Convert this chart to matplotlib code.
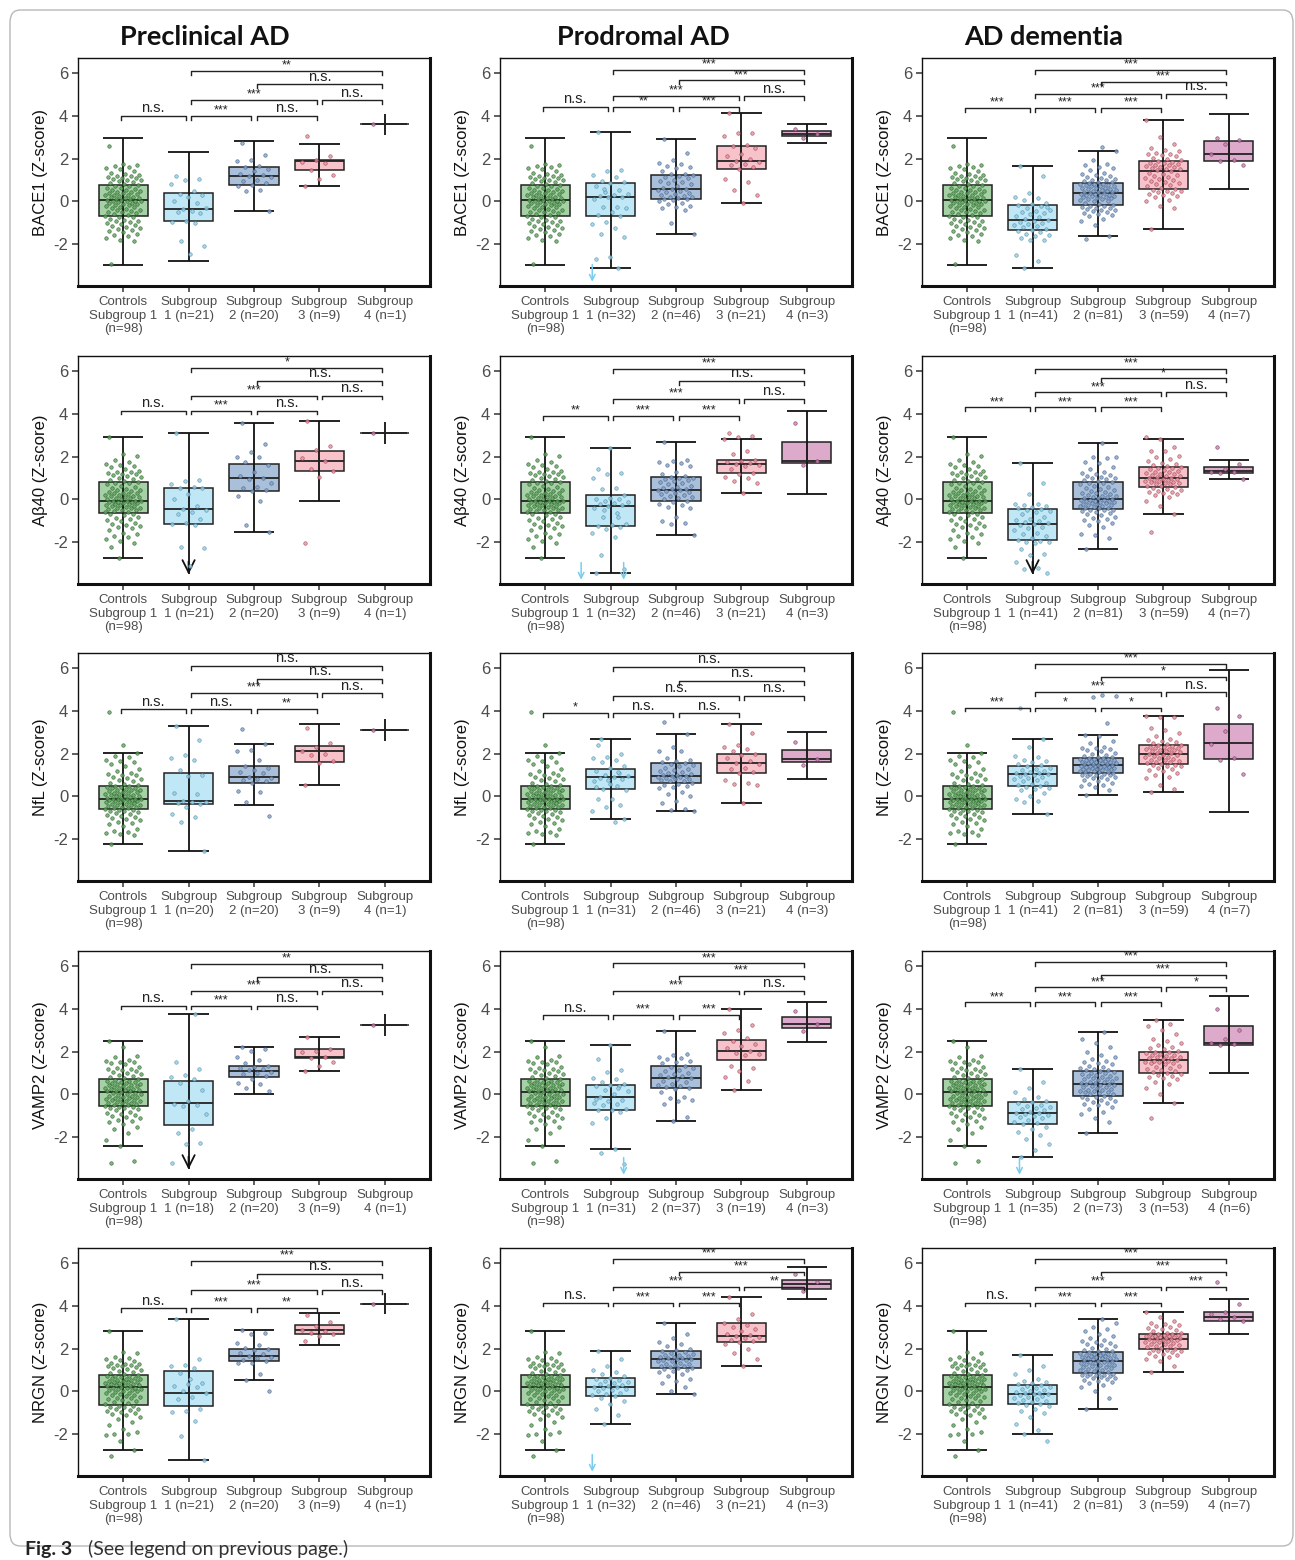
import numpy as np
import matplotlib.pyplot as plt
from matplotlib.patches import FancyBboxPatch

plt.rcParams['font.family'] = ['Liberation Sans', 'DejaVu Sans']
plt.rcParams['axes.unicode_minus'] = False

stages = ['Preclinical AD', 'Prodromal AD', 'AD dementia']
markers = ['BACE1', 'Aβ40', 'NfL', 'VAMP2', 'NRGN']

# group sizes (subgroups 1-4), controls are always n=98
n_ctrl = 98
bace1_n = [[21, 20, 9, 1], [32, 46, 21, 3], [41, 81, 59, 7]]
ab40_n = [[21, 20, 9, 1], [32, 46, 21, 3], [41, 81, 59, 7]]
nfl_n = [[20, 20, 9, 1], [31, 46, 21, 3], [41, 81, 59, 7]]
vamp2_n = [[18, 20, 9, 1], [31, 37, 19, 3], [35, 73, 53, 6]]
nrgn_n = [[21, 20, 9, 1], [32, 46, 21, 3], [41, 81, 59, 7]]

# significance labels, pairs: C-1, 1-2, 2-3, 3-4, 1-3, 2-4, 1-4
bace1_sig = [['n.s.', '***', 'n.s.', 'n.s.', '***', 'n.s.', '**'],
             ['n.s.', '**', '***', 'n.s.', '***', '***', '***'],
             ['***', '***', '***', 'n.s.', '***', '***', '***']]
ab40_sig = [['n.s.', '***', 'n.s.', 'n.s.', '***', 'n.s.', '*'],
            ['**', '***', '***', 'n.s.', '***', 'n.s.', '***'],
            ['***', '***', '***', 'n.s.', '***', '*', '***']]
nfl_sig = [['n.s.', 'n.s.', '**', 'n.s.', '***', 'n.s.', 'n.s.'],
           ['*', 'n.s.', 'n.s.', 'n.s.', 'n.s.', 'n.s.', 'n.s.'],
           ['***', '*', '*', 'n.s.', '***', '*', '***']]
vamp2_sig = [['n.s.', '***', 'n.s.', 'n.s.', '***', 'n.s.', '**'],
             ['n.s.', '***', '***', 'n.s.', '***', '***', '***'],
             ['***', '***', '***', '*', '***', '***', '***']]
nrgn_sig = [['n.s.', '***', '**', 'n.s.', '***', 'n.s.', '***'],
            ['n.s.', '***', '***', '**', '***', '***', '***'],
            ['n.s.', '***', '***', '***', '***', '***', '***']]

# bracket heights (lowest row, second, third, top)
bace1_lev = [[4.0, 4.73, 5.47, 6.08], [4.42, 4.92, 5.65, 6.15], [4.38, 5.03, 5.6, 6.15]]
ab40_lev = [[4.15, 4.85, 5.54, 6.15], [3.9, 4.7, 5.54, 6.1], [4.3, 5.0, 5.65, 6.1]]
nfl_lev = [[4.08, 4.82, 5.5, 6.1], [3.9, 4.7, 5.4, 6.05], [4.15, 4.88, 5.6, 6.2]]
vamp2_lev = [[4.15, 4.85, 5.5, 6.1], [3.7, 4.85, 5.55, 6.12], [4.3, 5.0, 5.6, 6.2]]
nrgn_lev = [[3.9, 4.72, 5.5, 6.1], [4.15, 4.9, 5.6, 6.2], [4.15, 4.9, 5.6, 6.2]]

# box stats [whisker low, q1, median, q3, whisker high]
bace1_ctrl_box = [-2.95, -0.7, 0.05, 0.75, 2.95]
ab40_ctrl_box = [-2.75, -0.65, -0.05, 0.8, 2.9]
nfl_ctrl_box = [-2.2, -0.6, -0.1, 0.5, 2.05]
vamp2_ctrl_box = [-2.4, -0.55, 0.1, 0.7, 2.5]
nrgn_ctrl_box = [-2.75, -0.65, 0.2, 0.75, 2.8]

bace1_box = [
    [[-2.8, -0.9, -0.35, 0.4, 2.3], [-0.45, 0.75, 1.2, 1.6, 2.8], [0.7, 1.45, 1.9, 1.95, 2.7], [3.1, 3.6, 3.6, 3.6, 4.1]],
    [[-3.1, -0.7, 0.2, 0.85, 3.25], [-1.5, 0.1, 0.6, 1.25, 2.9], [-0.05, 1.5, 1.9, 2.6, 4.15], [2.75, 3.05, 3.15, 3.3, 3.6]],
    [[-3.1, -1.35, -0.85, -0.15, 1.65], [-1.6, -0.15, 0.4, 0.85, 2.35], [-1.3, 0.6, 1.4, 1.9, 3.8], [0.6, 1.9, 2.2, 2.8, 4.1]]]
ab40_box = [
    [[-3.5, -1.15, -0.45, 0.55, 3.1], [-1.5, 0.4, 1.0, 1.65, 3.55], [-0.05, 1.35, 1.8, 2.25, 3.65], [2.6, 3.1, 3.1, 3.1, 3.6]],
    [[-3.45, -1.25, -0.3, 0.2, 2.4], [-1.65, -0.05, 0.45, 1.05, 2.7], [0.3, 1.25, 1.65, 1.85, 2.8], [0.25, 1.7, 1.8, 2.7, 4.15]],
    [[-3.5, -1.9, -1.15, -0.45, 1.7], [-2.3, -0.45, 0.0, 0.8, 2.65], [-0.7, 0.6, 1.0, 1.5, 2.8], [0.95, 1.25, 1.35, 1.5, 1.85]]]
nfl_box = [
    [[-2.55, -0.35, -0.2, 1.1, 3.3], [-0.4, 0.65, 0.9, 1.4, 2.45], [0.55, 1.6, 2.1, 2.35, 3.4], [2.6, 3.1, 3.1, 3.1, 3.6]],
    [[-1.05, 0.35, 0.9, 1.3, 2.7], [-0.7, 0.65, 0.95, 1.55, 2.9], [-0.3, 1.1, 1.55, 2.0, 3.4], [0.8, 1.6, 1.75, 2.15, 3.0]],
    [[-0.8, 0.5, 1.05, 1.4, 2.7], [0.05, 1.1, 1.45, 1.8, 2.85], [0.2, 1.5, 2.0, 2.4, 3.75], [-0.75, 1.75, 2.5, 3.4, 5.9]]]
vamp2_box = [
    [[-3.5, -1.45, -0.4, 0.65, 3.75], [0.0, 0.8, 1.1, 1.35, 2.2], [1.1, 1.7, 1.75, 2.1, 2.7], [2.75, 3.25, 3.25, 3.25, 3.75]],
    [[-2.55, -0.75, -0.1, 0.45, 2.3], [-1.25, 0.3, 0.75, 1.35, 2.95], [0.2, 1.6, 2.05, 2.55, 4.0], [2.45, 3.1, 3.3, 3.6, 4.3]],
    [[-2.9, -1.4, -0.85, -0.35, 1.2], [-1.8, -0.05, 0.5, 1.1, 2.9], [-0.4, 1.0, 1.6, 2.0, 3.5], [1.0, 2.3, 2.4, 3.2, 4.6]]]
nrgn_box = [
    [[-3.2, -0.7, -0.05, 0.95, 3.4], [0.55, 1.4, 1.65, 2.0, 2.85], [2.15, 2.7, 2.85, 3.1, 3.65], [3.6, 4.1, 4.1, 4.1, 4.6]],
    [[-1.5, -0.2, 0.2, 0.65, 1.9], [-0.1, 1.1, 1.5, 1.9, 3.2], [1.2, 2.3, 2.6, 3.2, 4.4], [4.3, 4.8, 5.0, 5.2, 5.8]],
    [[-2.0, -0.6, -0.1, 0.3, 1.7], [-0.8, 0.85, 1.4, 1.85, 3.4], [0.9, 2.0, 2.45, 2.7, 3.7], [2.7, 3.3, 3.5, 3.7, 4.3]]]

# individual values (Z-scores)
bace1_ctrl = [-2.9, -1.85, -1.8, -1.7, -1.6, -1.55, -1.5, -1.45, -1.4, -1.35, -1.3, -1.25, -1.2, -1.15, -1.1, -1.05,
              -1.0, -0.95, -0.9, -0.9, -0.85, -0.8, -0.75, -0.72, -0.68, -0.65, -0.6, -0.55, -0.5, -0.48, -0.45, -0.4,
              -0.38, -0.35, -0.3, -0.28, -0.25, -0.2, -0.18, -0.15, -0.12, -0.1, -0.08, -0.05, -0.02, 0.0, 0.01, 0.03,
              0.04, 0.06, 0.08, 0.1, 0.12, 0.15, 0.18, 0.2, 0.22, 0.25, 0.28, 0.3, 0.32, 0.35, 0.38, 0.4, 0.42, 0.45,
              0.5, 0.52, 0.55, 0.6, 0.62, 0.65, 0.7, 0.73, 0.78, 0.8, 0.85, 0.9, 0.95, 1.0, 1.0, 1.05, 1.1, 1.1, 1.15,
              1.2, 1.2, 1.25, 1.3, 1.35, 1.4, 1.5, 1.55, 1.6, 1.65, 1.7, 1.75, 2.6]
bace1_pts = [
    [[1.2, 1.05, 1.0, 0.8, 0.5, 0.35, 0.3, 0.2, 0.0, -0.05, -0.35, -0.3, -0.45, -0.5, -0.55, -0.9, -0.95, -1.0, -1.85,
      -2.1, -2.45],
     [2.75, 2.15, 1.95, 1.9, 1.65, 1.6, 1.5, 1.4, 1.3, 1.25, 1.2, 1.15, 1.0, 0.95, 0.85, 0.75, 0.7, 0.55, 0.5, -0.45],
     [3.05, 2.1, 1.95, 1.85, 1.8, 1.45, 1.25, 1.05, 0.7],
     [3.6]],
    [[3.25, 1.45, 1.4, 1.25, 1.15, 0.95, 0.9, 0.85, 0.7, 0.55, 0.45, 0.35, 0.3, 0.25, 0.2, 0.2, 0.1, -0.25, -0.25, -0.3,
      -0.5, -0.65, -0.7, -0.95, -1.05, -1.25, -1.5, -1.65, -2.6, -2.7, -3.1, 0.6],
     [2.9, 2.25, 1.95, 1.8, 1.75, 1.65, 1.6, 1.55, 1.4, 1.3, 1.3, 1.25, 1.2, 1.15, 1.1, 1.0, 0.95, 0.9, 0.85, 0.8,
      0.7, 0.65, 0.6, 0.6, 0.55, 0.5, 0.45, 0.4, 0.35, 0.3, 0.25, 0.2, 0.2, 0.15, 0.1, 0.1, 0.05, 0.0, -0.05, -0.1,
      -0.2, -0.25, -0.3, -0.4, -1.0, -1.5],
     [4.15, 3.2, 3.2, 3.05, 2.65, 2.6, 2.5, 2.2, 2.1, 2.0, 1.9, 1.85, 1.75, 1.7, 1.6, 1.5, 1.05, 0.9, 0.55, 0.3, -0.05],
     [3.4, 3.15, 2.95]],
    [[1.65, 1.2, 0.4, 0.2, 0.15, 0.05, -0.05, -0.1, -0.15, -0.2, -0.3, -0.4, -0.45, -0.5, -0.55, -0.6, -0.7, -0.75,
      -0.8, -0.85, -0.9, -0.95, -1.0, -1.05, -1.1, -1.15, -1.2, -1.3, -1.35, -1.4, -1.45, -1.5, -1.55, -1.6, -1.7,
      -1.8, -1.8, -2.5, -2.8, -3.1, -0.25],
     [-1.75, -1.6, -1.1, -0.9, -0.8, -0.7, -0.65, -0.6, -0.55, -0.5, -0.45, -0.4, -0.4, -0.35, -0.3, -0.3, -0.25,
      -0.2, -0.2, -0.18, -0.1, -0.05, 0.0, 0.0, 0.05, 0.1, 0.1, 0.15, 0.15, 0.2, 0.2, 0.25, 0.25, 0.3, 0.3, 0.3, 0.35,
      0.35, 0.38, 0.4, 0.42, 0.45, 0.45, 0.5, 0.5, 0.55, 0.55, 0.6, 0.6, 0.62, 0.65, 0.65, 0.7, 0.7, 0.72, 0.75, 0.75,
      0.8, 0.8, 0.82, 0.84, 0.9, 0.9, 0.95, 1.0, 1.0, 1.05, 1.1, 1.15, 1.2, 1.25, 1.3, 1.35, 1.45, 1.55, 1.6, 1.7,
      1.75, 1.95, 2.35, 2.55],
     [-1.3, -0.3, -0.2, 0.0, 0.05, 0.2, 0.25, 0.3, 0.35, 0.4, 0.45, 0.5, 0.5, 0.55, 0.58, 0.65, 0.7, 0.75, 0.8, 0.85,
      0.9, 0.95, 1.0, 1.05, 1.1, 1.15, 1.2, 1.25, 1.3, 1.35, 1.42, 1.45, 1.5, 1.5, 1.55, 1.6, 1.6, 1.65, 1.7, 1.7,
      1.75, 1.8, 1.8, 1.85, 1.88, 1.95, 2.0, 2.05, 2.1, 2.15, 2.2, 2.2, 2.25, 2.35, 2.4, 2.5, 2.7, 3.0, 3.8],
     [2.95, 2.85, 2.7, 2.2, 1.95, 1.9, 1.7]]]

ab40_ctrl = [-2.2, -2.05, -1.95, -1.85, -1.75, -1.7, -1.6, -1.55, -1.45, -1.35, -1.3, -1.25, -1.2, -1.15, -1.1, -1.0,
             -0.95, -0.9, -0.85, -0.8, -0.75, -0.7, -0.68, -2.75, -0.6, -0.58, -0.55, -0.5, -0.48, -0.45, -0.42, -0.4,
             -0.38, -0.35, -0.32, -0.3, -0.28, -0.25, -0.22, -0.2, -0.18, -0.15, -0.12, -0.1, -0.1, -0.08, -0.07,
             -0.06, -0.05, 0.0, 0.02, 0.05, 0.08, 0.1, 0.12, 0.15, 0.18, 0.2, 0.22, 0.25, 0.28, 0.3, 0.32, 0.35, 0.4,
             0.42, 0.45, 0.5, 0.55, 0.6, 0.65, 0.7, 0.75, 0.78, 0.82, 0.85, 0.9, 0.95, 1.0, 1.05, 1.1, 1.15, 1.2, 1.2,
             1.25, 1.3, 1.3, 1.35, 1.4, 1.5, 1.55, 1.6, 1.65, 1.75, 1.85, 2.05, 2.1, 2.9]
ab40_pts = [
    [[3.1, 0.9, 0.85, 0.7, 0.6, 0.55, 0.55, 0.25, 0.0, -0.3, -0.45, -0.5, -0.6, -0.7, -0.9, -1.1, -1.15, -1.2, -2.2,
      -2.25, -3.1],
     [3.55, 2.6, 2.2, 2.0, 2.0, 1.75, 1.6, 1.3, 1.1, 1.0, 0.95, 0.75, 0.6, 0.55, 0.45, 0.4, 0.15, -0.05, -1.2, -1.5],
     [3.65, 2.5, 2.3, 1.95, 1.8, 1.4, 1.35, 1.05, -2.05],
     [3.1]],
    [[1.4, 1.25, 1.2, 1.0, 0.55, 0.5, 0.2, 0.05, 0.0, 0.0, -0.05, -0.1, -0.15, -0.2, -0.25, -0.3, -0.4, -0.65, -0.8,
      -1.15, -1.2, -1.25, -1.3, -1.4, -1.55, -1.75, -2.6, -3.25, 2.4, -3.45, -0.8, -0.5],
     [2.7, 1.85, 1.8, 1.75, 1.7, 1.6, 1.55, 1.3, 1.2, 1.1, 1.05, 1.0, 1.0, 0.95, 0.9, 0.85, 0.8, 0.75, 0.7, 0.65,
      0.6, 0.55, 0.5, 0.5, 0.45, 0.45, 0.4, 0.35, 0.3, 0.25, 0.2, 0.15, 0.1, 0.05, 0.0, -0.05, -0.1, -0.2, -0.25,
      -0.35, -0.4, -0.8, -1.0, -1.1, -1.15, -1.65],
     [3.1, 2.95, 2.9, 2.8, 2.25, 2.1, 1.85, 1.8, 1.75, 1.7, 1.65, 1.6, 1.55, 1.4, 1.25, 1.2, 1.05, 1.0, 0.85, 0.75, 0.3],
     [3.55, 1.8, 1.6]],
    [[1.7, 0.75, 0.25, -0.2, -0.2, -0.25, -0.3, -0.35, -0.4, -0.45, -0.5, -0.55, -0.6, -0.7, -0.8, -0.9, -0.95, -1.0,
      -1.05, -1.1, -1.15, -1.2, -1.3, -1.35, -1.45, -1.55, -1.6, -1.7, -1.8, -1.9, -1.95, -2.0, -2.0, -2.05, -2.3,
      -2.55, -2.6, -2.9, -3.2, -3.25, -3.45],
     [-2.3, -1.8, -1.65, -1.6, -1.3, -1.2, -1.1, -1.0, -0.95, -0.9, -0.85, -0.8, -0.75, -0.7, -0.65, -0.6, -0.55,
      -0.5, -0.5, -0.48, -0.42, -0.4, -0.38, -0.35, -0.32, -0.3, -0.28, -0.25, -0.22, -0.2, -0.18, -0.15, -0.12,
      -0.1, -0.08, -0.06, -0.05, -0.03, -0.02, -0.01, 0.02, 0.05, 0.08, 0.1, 0.12, 0.15, 0.18, 0.2, 0.25, 0.28, 0.3,
      0.35, 0.4, 0.45, 0.5, 0.55, 0.6, 0.65, 0.7, 0.75, 0.78, 0.82, 0.85, 0.9, 0.95, 1.0, 1.0, 1.05, 1.1, 1.15, 1.2,
      1.25, 1.3, 1.4, 1.5, 1.7, 1.75, 1.95, 2.0, 2.0, 2.65],
     [-1.5, -0.7, -0.3, -0.05, 0.1, 0.2, 0.25, 0.3, 0.35, 0.35, 0.4, 0.45, 0.5, 0.55, 0.58, 0.62, 0.65, 0.7, 0.72,
      0.75, 0.78, 0.8, 0.82, 0.85, 0.88, 0.9, 0.92, 0.95, 0.97, 0.99, 1.02, 1.05, 1.08, 1.1, 1.15, 1.18, 1.2, 1.25,
      1.28, 1.3, 1.35, 1.38, 1.4, 1.45, 1.48, 1.52, 1.55, 1.6, 1.65, 1.7, 1.8, 1.9, 2.0, 2.05, 2.25, 2.25, 2.45, 2.8,
      2.9],
     [2.45, 1.65, 1.4, 1.3, 1.3, 1.25, 0.95]]]

nfl_ctrl = [-2.2, -1.8, -1.75, -1.7, -1.65, -1.6, -1.5, -1.4, -1.3, -1.25, -1.2, -1.1, -1.05, -1.0, -0.95, -0.9, -0.85,
            -0.8, -0.78, -0.75, -0.7, -0.68, -0.65, -0.62, -0.58, -0.55, -0.52, -0.5, -0.48, -0.45, -0.42, -0.4,
            -0.38, -0.35, -0.33, -0.3, -0.28, -0.25, -0.23, -0.2, -0.2, -0.18, -0.16, -0.15, -0.14, -0.13, -0.12,
            -0.11, -0.1, -0.08, -0.05, -0.03, 0.0, 0.0, 0.02, 0.05, 0.08, 0.1, 0.12, 0.15, 0.18, 0.2, 0.22, 0.25, 0.28,
            0.3, 0.32, 0.35, 0.38, 0.4, 0.42, 0.45, 0.48, 0.5, 0.55, 0.6, 0.65, 0.7, 0.75, 0.8, 0.85, 0.9, 1.0, 1.0,
            1.05, 1.1, 1.2, 1.3, 1.4, 1.5, 1.6, 1.65, 1.7, 1.85, 1.9, 2.05, 2.4, 3.95]
nfl_pts = [
    [[3.3, 2.65, 1.95, 1.8, 1.7, 1.25, 1.0, 0.95, 0.15, 0.1, -0.2, -0.25, -0.25, -0.3, -0.35, -0.5, -0.8, -0.95, -1.2,
      -2.55],
     [3.15, 2.45, 2.15, 2.1, 1.7, 1.4, 1.35, 1.25, 1.15, 1.1, 0.9, 0.85, 0.8, 0.75, 0.7, 0.65, 0.25, 0.2, -0.25, -0.9],
     [3.2, 2.5, 2.3, 2.1, 2.0, 1.95, 1.65, 1.55, 0.55],
     [3.1]],
    [[2.4, 2.0, 1.85, 1.8, 1.7, 1.6, 1.4, 1.35, 1.2, 1.1, 1.0, 0.95, 0.9, 0.85, 0.8, 0.75, 0.7, 0.5, 0.35, 0.3, -0.1,
      -0.1, -0.4, -0.5, -0.7, -1.2, 2.7, -1.05, 0.6, 0.45, 1.15],
     [3.5, 2.9, 2.3, 2.1, 2.1, 1.8, 1.7, 1.65, 1.6, 1.55, 1.5, 1.45, 1.4, 1.35, 1.3, 1.25, 1.2, 1.15, 1.1, 1.05, 1.0,
      1.0, 0.95, 0.95, 0.9, 0.9, 0.85, 0.8, 0.8, 0.75, 0.7, 0.7, 0.65, 0.6, 0.55, 0.5, 0.45, 0.4, 0.2, 0.1, 0.0,
      -0.2, -0.3, -0.6, -0.65, -0.7],
     [3.4, 2.95, 2.4, 2.3, 2.2, 2.1, 2.0, 1.95, 1.8, 1.65, 1.55, 1.5, 1.35, 1.3, 1.15, 1.1, 0.75, 0.65, 0.6, 0.55, -0.3],
     [2.55, 1.75, 1.45]],
    [[4.15, 2.7, 2.3, 1.9, 1.85, 1.7, 1.65, 1.6, 1.5, 1.45, 1.4, 1.35, 1.3, 1.25, 1.2, 1.15, 1.1, 1.1, 1.05, 1.05,
      1.0, 0.95, 0.9, 0.85, 0.8, 0.75, 0.7, 0.65, 0.6, 0.55, 0.5, 0.45, 0.4, 0.35, 0.3, 0.15, 0.0, -0.1, -0.2, -0.25,
      -0.8],
     [0.05, 0.3, 0.45, 0.5, 0.55, 0.6, 0.65, 0.7, 0.75, 0.8, 0.85, 0.9, 0.92, 0.95, 0.98, 1.0, 1.02, 1.05, 1.07, 1.09,
      1.12, 1.14, 1.16, 1.18, 1.2, 1.22, 1.24, 1.26, 1.28, 1.3, 1.32, 1.33, 1.35, 1.36, 1.38, 1.39, 1.4, 1.42, 1.43,
      1.44, 1.46, 1.48, 1.5, 1.51, 1.53, 1.55, 1.56, 1.58, 1.6, 1.62, 1.63, 1.65, 1.67, 1.68, 1.7, 1.72, 1.73, 1.75,
      1.76, 1.78, 1.79, 1.82, 1.85, 1.9, 1.95, 2.0, 2.05, 2.1, 2.15, 2.2, 2.25, 2.25, 2.3, 2.5, 2.6, 2.8, 2.85, 3.45,
      4.65, 4.7, 4.75],
     [0.2, 0.35, 0.55, 0.85, 0.9, 1.0, 1.1, 1.2, 1.25, 1.3, 1.35, 1.4, 1.42, 1.45, 1.48, 1.52, 1.55, 1.6, 1.62, 1.65,
      1.7, 1.72, 1.75, 1.8, 1.82, 1.85, 1.9, 1.92, 1.95, 1.98, 2.02, 2.05, 2.08, 2.1, 2.12, 2.15, 2.18, 2.2, 2.22,
      2.25, 2.28, 2.3, 2.33, 2.36, 2.38, 2.42, 2.45, 2.5, 2.55, 2.6, 2.65, 2.7, 2.8, 2.95, 3.1, 3.2, 3.7, 3.7, 3.75],
     [4.15, 3.75, 3.05, 2.45, 1.8, 1.7, 1.05]]]

vamp2_ctrl = [-3.2, -3.1, -2.4, -2.15, -1.8, -1.6, -1.5, -1.4, -1.3, -1.25, -1.2, -1.1, -1.05, -1.0, -0.95, -0.9, -0.85,
              -0.8, -0.75, -0.7, -0.65, -0.62, -0.6, -0.58, -0.52, -0.5, -0.48, -0.45, -0.42, -0.4, -0.38, -0.35,
              -0.32, -0.3, -0.28, -0.25, -0.22, -0.2, -0.18, -0.15, -0.12, -0.1, -0.08, -0.05, -0.02, 0.0, 0.03, 0.05,
              0.08, 0.12, 0.14, 0.16, 0.18, 0.2, 0.22, 0.24, 0.26, 0.28, 0.3, 0.32, 0.35, 0.38, 0.4, 0.42, 0.45, 0.48,
              0.5, 0.52, 0.55, 0.58, 0.6, 0.62, 0.65, 0.68, 0.72, 0.75, 0.8, 0.85, 0.9, 0.95, 1.0, 1.05, 1.1, 1.15,
              1.2, 1.2, 1.25, 1.3, 1.4, 1.45, 1.5, 1.5, 1.55, 1.6, 1.75, 1.8, 2.2, 2.5]
vamp2_pts = [
    [[1.5, 1.2, 0.9, 0.8, 0.7, 0.55, 0.2, -0.3, -0.45, -0.5, -0.55, -0.9, -1.6, -1.8, -2.25, -2.3, -3.2, 3.75],
     [2.2, 2.1, 2.05, 1.75, 1.6, 1.45, 1.35, 1.3, 1.25, 1.2, 1.15, 1.05, 1.0, 0.95, 0.85, 0.7, 0.55, 0.5, 0.3, 0.15],
     [2.7, 2.1, 2.05, 2.0, 1.75, 1.7, 1.5, 1.35, 1.1],
     [3.25]],
    [[1.65, 1.15, 1.05, 0.75, 0.7, 0.6, 0.5, 0.45, 0.4, 0.4, 0.2, 0.15, 0.0, -0.1, -0.25, -0.3, -0.4, -0.45, -0.5,
      -0.7, -0.75, -0.75, -0.8, -1.1, -1.35, -2.55, -2.75, -3.25, 2.3, -0.2, 0.3],
     [2.95, 1.9, 1.85, 1.75, 1.7, 1.65, 1.55, 1.5, 1.45, 1.35, 1.3, 1.25, 1.15, 1.1, 1.0, 0.95, 0.9, 0.85, 0.8, 0.75,
      0.7, 0.65, 0.6, 0.5, 0.45, 0.4, 0.35, 0.3, 0.25, 0.1, -0.1, -0.15, -0.25, -0.3, -0.45, -1.05, -1.25],
     [4.0, 3.25, 3.0, 2.85, 2.65, 2.5, 2.35, 2.25, 2.15, 2.05, 1.95, 1.9, 1.85, 1.35, 1.25, 1.1, 0.8, 0.65, 0.2],
     [3.9, 3.3, 2.95]],
    [[1.2, 0.6, 0.3, 0.1, -0.1, -0.2, -0.3, -0.35, -0.4, -0.5, -0.55, -0.6, -0.65, -0.7, -0.75, -0.8, -0.85, -0.85,
      -0.9, -0.95, -1.0, -1.05, -1.1, -1.2, -1.3, -1.35, -1.4, -1.5, -1.6, -1.75, -1.9, -2.1, -2.3, -2.6, -2.9],
     [-1.8, -1.3, -1.1, -0.9, -0.8, -0.7, -0.6, -0.5, -0.45, -0.4, -0.35, -0.3, -0.25, -0.2, -0.15, -0.12, -0.1,
      -0.08, 0.0, 0.03, 0.06, 0.1, 0.12, 0.15, 0.18, 0.2, 0.23, 0.26, 0.3, 0.33, 0.36, 0.4, 0.42, 0.45, 0.47, 0.49,
      0.52, 0.55, 0.58, 0.6, 0.63, 0.66, 0.7, 0.72, 0.75, 0.78, 0.8, 0.84, 0.88, 0.9, 0.94, 0.98, 1.0, 1.04, 1.08,
      1.12, 1.15, 1.2, 1.25, 1.3, 1.35, 1.4, 1.45, 1.5, 1.55, 1.65, 1.75, 1.85, 2.0, 2.2, 2.4, 2.6, 2.9],
     [-1.1, -0.4, 0.0, 0.3, 0.5, 0.6, 0.7, 0.75, 0.8, 0.85, 0.9, 0.95, 0.98, 1.05, 1.1, 1.15, 1.2, 1.25, 1.3, 1.35,
      1.4, 1.45, 1.48, 1.5, 1.53, 1.55, 1.58, 1.62, 1.65, 1.68, 1.7, 1.73, 1.76, 1.8, 1.83, 1.86, 1.9, 1.93, 1.96,
      1.99, 2.05, 2.1, 2.15, 2.2, 2.3, 2.4, 2.5, 2.6, 2.8, 3.0, 3.2, 3.3, 3.5],
     [4.0, 3.0, 2.6, 2.4, 2.35, 2.3]]]

nrgn_ctrl = [-3.0, -2.75, -2.3, -2.05, -2.0, -2.0, -1.9, -1.75, -1.55, -1.45, -1.3, -1.2, -1.1, -1.05, -1.0, -0.95,
             -0.9, -0.85, -0.82, -0.8, -0.75, -0.72, -0.7, -0.68, -0.6, -0.55, -0.5, -0.45, -0.4, -0.35, -0.32, -0.3,
             -0.25, -0.2, -0.18, -0.15, -0.1, -0.08, -0.05, -0.02, 0.0, 0.03, 0.05, 0.08, 0.1, 0.12, 0.14, 0.16, 0.18,
             0.22, 0.24, 0.26, 0.28, 0.3, 0.32, 0.34, 0.36, 0.38, 0.4, 0.42, 0.44, 0.46, 0.48, 0.5, 0.52, 0.55, 0.58,
             0.6, 0.62, 0.65, 0.68, 0.7, 0.72, 0.74, 0.78, 0.8, 0.85, 0.9, 0.95, 1.0, 1.05, 1.1, 1.15, 1.2, 1.2, 1.25,
             1.25, 1.3, 1.3, 1.35, 1.4, 1.45, 1.5, 1.55, 1.6, 1.8, 1.85, 2.8]
nrgn_pts = [
    [[3.4, 1.5, 1.25, 1.2, 1.1, 0.85, 0.4, 0.35, 0.25, 0.2, 0.0, -0.05, -0.25, -0.35, -0.8, -0.9, -0.95, -1.4, -2.1,
      -3.2, 0.6],
     [2.85, 2.75, 2.7, 2.25, 2.15, 2.05, 2.0, 1.95, 1.8, 1.75, 1.65, 1.6, 1.55, 1.45, 1.4, 1.35, 1.35, 0.8, 0.55, 0.0],
     [3.55, 3.25, 3.05, 2.85, 2.8, 2.75, 2.7, 2.6, 2.35],
     [4.1]],
    [[1.9, 1.5, 1.2, 1.0, 0.9, 0.8, 0.7, 0.65, 0.6, 0.55, 0.5, 0.45, 0.4, 0.35, 0.3, 0.25, 0.2, 0.2, 0.15, 0.1, 0.05,
      0.0, -0.05, -0.1, -0.15, -0.2, -0.3, -0.45, -0.6, -0.8, -1.1, -1.5],
     [3.2, 2.7, 2.5, 2.3, 2.2, 2.1, 2.0, 1.95, 1.9, 1.85, 1.8, 1.75, 1.7, 1.7, 1.65, 1.6, 1.6, 1.55, 1.55, 1.5, 1.5,
      1.45, 1.45, 1.4, 1.4, 1.35, 1.3, 1.3, 1.25, 1.2, 1.2, 1.15, 1.1, 1.1, 1.05, 1.0, 0.95, 0.9, 0.8, 0.7, 0.6, 0.5,
      0.4, 0.2, 0.0, -0.1],
     [4.4, 3.6, 3.4, 3.2, 3.1, 3.0, 2.9, 2.8, 2.7, 2.65, 2.6, 2.55, 2.5, 2.4, 2.35, 2.3, 2.2, 2.0, 1.8, 1.5, 1.2],
     [5.5, 5.1, 4.7]],
    [[1.7, 1.2, 1.0, 0.8, 0.6, 0.5, 0.45, 0.4, 0.35, 0.3, 0.25, 0.2, 0.15, 0.1, 0.05, 0.0, -0.02, -0.05, -0.08, -0.1,
      -0.12, -0.15, -0.2, -0.25, -0.3, -0.35, -0.4, -0.45, -0.5, -0.55, -0.6, -0.65, -0.7, -0.8, -0.9, -1.0, -1.2,
      -1.5, -1.8, -2.0, -2.3],
     [-0.8, -0.3, 0.0, 0.2, 0.3, 0.4, 0.45, 0.5, 0.55, 0.6, 0.62, 0.65, 0.68, 0.7, 0.72, 0.75, 0.77, 0.79, 0.81, 0.83,
      0.88, 0.9, 0.93, 0.96, 1.0, 1.02, 1.05, 1.08, 1.1, 1.13, 1.16, 1.2, 1.22, 1.25, 1.28, 1.3, 1.33, 1.35, 1.37,
      1.39, 1.42, 1.44, 1.46, 1.48, 1.5, 1.52, 1.54, 1.56, 1.58, 1.6, 1.62, 1.64, 1.66, 1.68, 1.7, 1.72, 1.74, 1.76,
      1.78, 1.8, 1.83, 1.88, 1.9, 1.95, 2.0, 2.05, 2.1, 2.15, 2.2, 2.25, 2.3, 2.35, 2.4, 2.5, 2.6, 2.7, 2.8, 2.9,
      3.0, 3.2, 3.4],
     [0.9, 1.2, 1.4, 1.5, 1.6, 1.65, 1.7, 1.75, 1.8, 1.85, 1.88, 1.9, 1.93, 1.95, 1.98, 2.03, 2.06, 2.1, 2.13, 2.16,
      2.2, 2.23, 2.26, 2.3, 2.32, 2.35, 2.37, 2.4, 2.42, 2.44, 2.46, 2.48, 2.5, 2.51, 2.53, 2.55, 2.56, 2.58, 2.6,
      2.61, 2.63, 2.64, 2.66, 2.67, 2.69, 2.72, 2.75, 2.8, 2.85, 2.9, 2.95, 3.0, 3.05, 3.1, 3.15, 3.2, 3.3, 3.5, 3.7],
     [5.1, 4.1, 3.7, 3.6, 3.5, 3.4, 3.3]]]

# whiskers drawn as an arrow (values beyond the axis): (marker, stage, group)
arrow_whiskers = [('Aβ40', 0, 1), ('Aβ40', 2, 1), ('VAMP2', 0, 1)]
# small light-blue arrows for off-scale points: (marker, stage, group, offset)
offscale_marks = [('BACE1', 1, 1, -0.28), ('Aβ40', 1, 1, -0.45), ('Aβ40', 1, 1, 0.2),
                  ('VAMP2', 1, 1, 0.2), ('VAMP2', 2, 1, -0.2), ('NRGN', 1, 1, -0.28)]

panels = {
    'BACE1': (bace1_ctrl, bace1_ctrl_box, bace1_pts, bace1_box, bace1_n, bace1_sig, bace1_lev),
    'Aβ40': (ab40_ctrl, ab40_ctrl_box, ab40_pts, ab40_box, ab40_n, ab40_sig, ab40_lev),
    'NfL': (nfl_ctrl, nfl_ctrl_box, nfl_pts, nfl_box, nfl_n, nfl_sig, nfl_lev),
    'VAMP2': (vamp2_ctrl, vamp2_ctrl_box, vamp2_pts, vamp2_box, vamp2_n, vamp2_sig, vamp2_lev),
    'NRGN': (nrgn_ctrl, nrgn_ctrl_box, nrgn_pts, nrgn_box, nrgn_n, nrgn_sig, nrgn_lev),
}

box_fill = ['#a6d1a6', '#bfe7f6', '#aac0da', '#f8c2ca', '#ddaacc']
pt_face = ['#5fa55f', '#95cfe6', '#85a3c8', '#e8929f', '#c985ae']
pt_edge = ['#255a25', '#4a88a4', '#3e5b84', '#93404f', '#73305b']

pairs = [(1, 2), (2, 3), (3, 4), (4, 5), (2, 4), (3, 5), (2, 5)]
pair_level = [0, 0, 0, 1, 1, 2, 3]

W, H = 1295, 1560
fig = plt.figure(figsize=(W / 100, H / 100), dpi=100)
fig.patches.append(FancyBboxPatch((10 / W, 14 / H), 1283 / W, 1536 / H,
                                  boxstyle='round,pad=0,rounding_size=0.008',
                                  transform=fig.transFigure, fill=False,
                                  edgecolor='#b8b8b8', lw=1.0))

col_left = [78, 500, 922]
title_x = [205, 643, 1044]
row_top = [58, 356, 653, 951, 1248]
ax_w, ax_h = 352, 228

for c, stage in enumerate(stages):
    fig.text(title_x[c] / W, 1 - 37 / H, stage, ha='center', va='center',
             fontsize=19.5, fontweight='bold', family=['Lato', 'DejaVu Sans'], color='#111111')

for r, marker in enumerate(markers):
    ctrl, ctrl_box, pts, boxes, ns, sigs, levs = panels[marker]
    for c in range(3):
        ax = fig.add_axes([col_left[c] / W, 1 - (row_top[r] + ax_h) / H, ax_w / W, ax_h / H])
        groups = [ctrl] + pts[c]
        stats = [ctrl_box] + boxes[c]
        sizes = [n_ctrl] + ns[c]
        for g in range(5):
            x = g + 1
            wl, q1, med, q3, wh = stats[g]
            arrow = (marker, c, g) in arrow_whiskers
            single = sizes[g] == 1
            bw = 0.69 if single else 0.75
            ax.bar(x, q3 - q1, bottom=q1, width=0.75, color=box_fill[g],
                   edgecolor='#222222', linewidth=1.1, zorder=2)
            ax.hlines(med, x - bw / 2, x + bw / 2, color='#222222', lw=1.3, zorder=2.6)
            ax.vlines(x, wl, wh, color='#111111', lw=1.3, zorder=2.5)
            if not single:
                ax.hlines(wh, x - 0.31, x + 0.31, color='#111111', lw=1.3, zorder=2.5)
                if not arrow:
                    ax.hlines(wl, x - 0.31, x + 0.31, color='#111111', lw=1.3, zorder=2.5)
            if arrow:
                ax.annotate('', xy=(x, wl), xytext=(x, wl + 0.6),
                            arrowprops=dict(arrowstyle='->', lw=1.3, color='#111111',
                                            mutation_scale=22, shrinkA=0, shrinkB=0),
                            zorder=2.5)
            vals = np.array(groups[g], dtype=float)
            idx = np.arange(len(vals))
            off = ((idx * 0.618034 + 0.17) % 1.0 - 0.5) * 0.56
            ax.scatter(x + off, vals, s=6.5, c=pt_face[g], edgecolors=pt_edge[g],
                       linewidths=0.45, alpha=0.8, zorder=3)

        for mk, st, g, dx in offscale_marks:
            if mk == marker and st == c:
                ax.annotate('', xy=(g + 1 + dx, -3.75), xytext=(g + 1 + dx, -2.95),
                            arrowprops=dict(arrowstyle='->', lw=1.1, color='#78cdef',
                                            mutation_scale=10, shrinkA=0, shrinkB=0),
                            zorder=3)

        # significance brackets
        for k, (a, b) in enumerate(pairs):
            y = levs[c][pair_level[k]]
            x1 = a + 0.04 if a > 1 else a - 0.04
            x2 = b - 0.04
            ax.plot([x1, x1, x2, x2], [y - 0.18, y, y, y - 0.18], color='#222222', lw=1.0, zorder=4)
            lab = sigs[c][k]
            if lab == 'n.s.':
                ax.text((x1 + x2) / 2, y + 0.02, lab, ha='center', va='bottom',
                        fontsize=10.5, color='#222222')
            else:
                ax.text((x1 + x2) / 2, y - 0.03, lab, ha='center', va='bottom',
                        fontsize=9, color='#222222')

        labels = ['Controls\nSubgroup 1\n(n=%d)' % n_ctrl] + \
                 ['Subgroup\n%d (n=%d)' % (i + 1, ns[c][i]) for i in range(4)]
        ax.set_xticks(range(1, 6))
        ax.set_xticklabels(labels, fontsize=9.5, color='#4d4d4d', linespacing=1.2)
        ax.set_yticks([-2, 0, 2, 4, 6])
        ax.set_yticklabels(['-2', '0', '2', '4', '6'], fontsize=12, color='#4d4d4d')
        ax.set_xlim(0.31, 5.69)
        ax.set_ylim(-3.95, 6.7)
        ax.set_ylabel(marker + ' (Z-score)', fontsize=12, color='#111111', labelpad=4)
        ax.tick_params(axis='both', direction='out', length=4, width=1.1, color='#333333', pad=3)
        for side in ['left', 'top']:
            ax.spines[side].set_linewidth(1.0)
        for side in ['right', 'bottom']:
            ax.spines[side].set_linewidth(2.2)
        for side in ax.spines:
            ax.spines[side].set_color('#111111')

fig.text(25 / W, 1 - 1549 / H, 'Fig. 3', ha='left', va='center', fontsize=14, fontweight='bold',
         family=['Lato', 'DejaVu Sans'], color='#222222')
fig.text(88 / W, 1 - 1549 / H, '(See legend on previous page.)', ha='left', va='center', fontsize=14,
         family=['Lato', 'DejaVu Sans'], color='#333333')

fig.savefig('out.png', dpi=100)
